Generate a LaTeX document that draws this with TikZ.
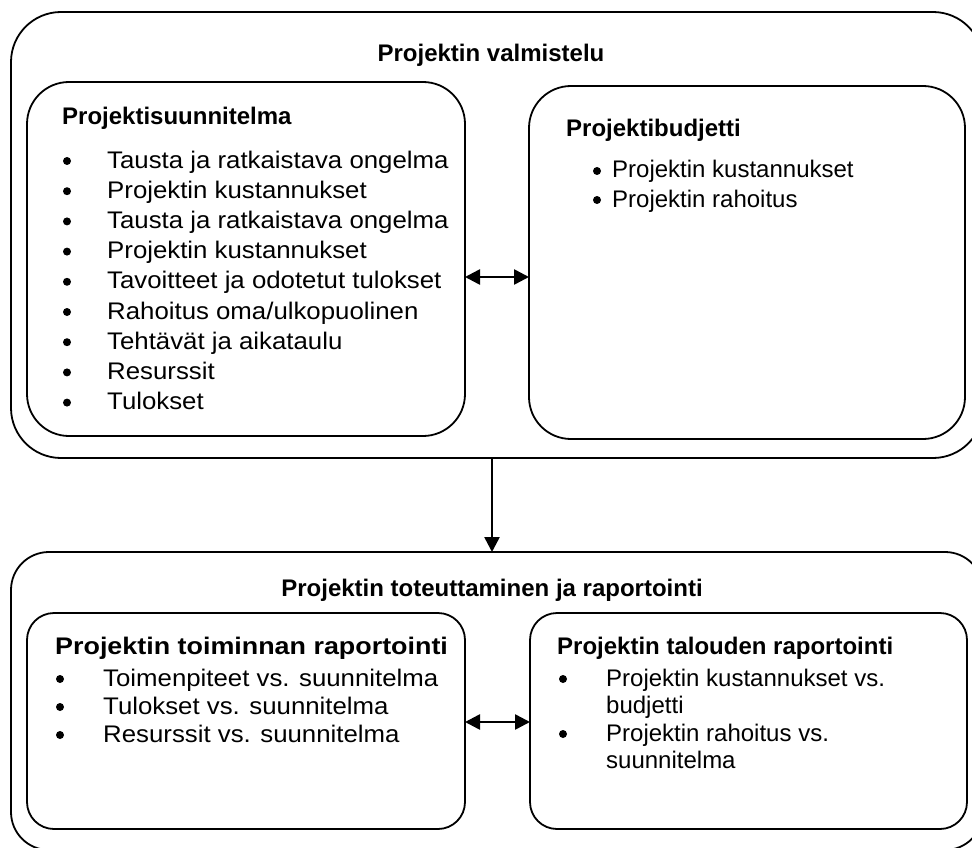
\documentclass[tikz,border=0pt]{standalone}
\usepackage{fontspec}
\setmainfont{Liberation Sans}
\usetikzlibrary{arrows.meta}
\newcommand{\wideL}[1]{\scalebox{1.075}[1]{#1}}
\newcommand{\wideH}[1]{\scalebox{1.12}[1]{#1}}
\begin{document}
\begin{tikzpicture}[x=1pt,y=-1pt,
  box/.style={draw, line width=1.8pt, anchor=north west, inner sep=0, outer sep=0},
  ttl/.style={font=\fontsize{24}{28}\selectfont\bfseries, anchor=base, inner sep=0},
  hd/.style={font=\fontsize{24}{28}\selectfont\bfseries, anchor=base west, inner sep=0},
  itm/.style={font=\fontsize{24}{28}\selectfont, anchor=base west, inner sep=0},
  bul/.style={circle, fill, inner sep=0, minimum size=8pt},
  dbl/.style={line width=2.6pt, {Triangle[length=15pt,width=15pt]}-{Triangle[length=15pt,width=15pt]}},
  sgl/.style={line width=2.6pt, -{Triangle[length=15pt,width=15pt]}},
]
\useasboundingbox (0,0) rectangle (972,848);
\clip (0,0) rectangle (972,848);
% boxes
\node[box, rounded corners=50pt, minimum width=972pt, minimum height=446pt] (ot) at (11,12) {};
\node[box, rounded corners=42pt, minimum width=438pt, minimum height=354pt] (tl) at (27,82) {};
\node[box, rounded corners=42pt, minimum width=436pt, minimum height=353pt] (tr) at (529,86) {};
\node[box, rounded corners=38pt, minimum width=972pt, minimum height=298pt] (ob) at (11,552) {};
\node[box, rounded corners=27pt, minimum width=438pt, minimum height=216pt] (bl) at (27,613) {};
\node[box, rounded corners=27pt, minimum width=437pt, minimum height=216pt] (br) at (530,613) {};
% titles
\node[ttl] (t1) at (491,62) {Projektin valmistelu};
\node[ttl] (t2) at (492,596) {Projektin toteuttaminen ja raportointi};
% top left
\node[hd] (h1) at (62,125) {Projektisuunnitelma};
\foreach \t [count=\i] in {Tausta ja ratkaistava ongelma, Projektin kustannukset, Tausta ja ratkaistava ongelma, Projektin kustannukset, Tavoitteet ja odotetut tulokset, Rahoitus oma/ulkopuolinen, Tehtävät ja aikataulu, Resurssit, Tulokset}{
  \node[itm] (a\i) at (107,{168+30.2*(\i-1)}) {\wideL{\t}};
  \node[bul] (ab\i) at (67,{161+30.2*(\i-1)}) {};
}
% top right
\node[hd] (h2) at (566,137) {Projektibudjetti};
\foreach \t [count=\i] in {Projektin kustannukset, Projektin rahoitus}{
  \node[itm] (b\i) at (612,{178+29*(\i-1)}) {\t};
  \node[bul] (bb\i) at (597,{171+29*(\i-1)}) {};
}
% bottom left
\node[hd] (h3) at (55,654) {\wideH{Projektin toiminnan raportointi}};
\foreach \t [count=\i] in {Toimenpiteet vs. suunnitelma, Tulokset vs. suunnitelma, Resurssit vs. suunnitelma}{
  \node[itm] (c\i) at (103,{686+28*(\i-1)}) {\wideL{\t}};
  \node[bul] (cb\i) at (60,{679+28*(\i-1)}) {};
}
% bottom right
\node[hd] (h4) at (557,654) {Projektin talouden raportointi};
\node[itm] (d1) at (606,686) {Projektin kustannukset vs.};
\node[itm] (d2) at (606,713) {budjetti};
\node[itm] (d3) at (606,741) {Projektin rahoitus vs.};
\node[itm] (d4) at (606,768) {suunnitelma};
\node[bul] (db1) at (563,679) {};
\node[bul] (db2) at (563,734) {};
% connectors
\coordinate (ya) at (0,277);
\coordinate (yb) at (0,722);
\coordinate (xv) at (492,0);
\draw[dbl] (tl.east |- ya) -- (tr.west |- ya);
\draw[dbl] (bl.east |- yb) -- (br.west |- yb);
\draw[sgl] (ot.south -| xv) -- (ob.north -| xv);
\end{tikzpicture}
\end{document}
